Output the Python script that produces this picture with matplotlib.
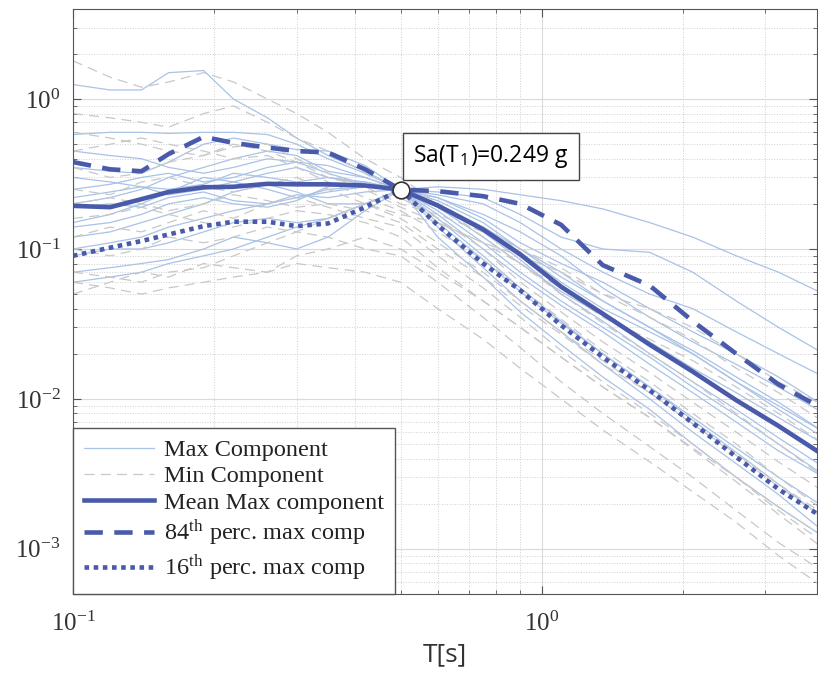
import numpy as np
import matplotlib.pyplot as plt
from matplotlib.ticker import NullFormatter
from matplotlib.lines import Line2D

plt.rcParams['font.family'] = 'Liberation Serif'
plt.rcParams['mathtext.fontset'] = 'stix'
plt.rcParams['axes.unicode_minus'] = False

# periods [s]
period = [0.10, 0.12, 0.14, 0.16, 0.19, 0.22, 0.26, 0.30, 0.35, 0.42, 0.50,
          0.60, 0.75, 0.90, 1.10, 1.35, 1.70, 2.10, 2.60, 3.20, 4.00]

# spectral accelerations of the max components [g]
max_components = [
    [1.25, 1.15, 1.15, 1.5, 1.55, 1.0, 0.75, 0.55, 0.42, 0.33, 0.249, 0.17, 0.10, 0.065, 0.042, 0.028, 0.017, 0.011, 0.007, 0.0045, 0.003],
    [0.58, 0.6, 0.6, 0.59, 0.6, 0.6, 0.58, 0.5, 0.4, 0.32, 0.249, 0.2, 0.14, 0.1, 0.07, 0.045, 0.03, 0.02, 0.013, 0.009, 0.006],
    [0.2, 0.22, 0.25, 0.3, 0.35, 0.4, 0.45, 0.42, 0.33, 0.3, 0.249, 0.26, 0.25, 0.23, 0.21, 0.185, 0.15, 0.12, 0.09, 0.07, 0.05],
    [0.35, 0.33, 0.32, 0.38, 0.5, 0.55, 0.5, 0.46, 0.45, 0.36, 0.249, 0.24, 0.22, 0.17, 0.12, 0.1, 0.095, 0.07, 0.045, 0.03, 0.02],
    [0.15, 0.17, 0.2, 0.24, 0.3, 0.28, 0.32, 0.35, 0.3, 0.27, 0.249, 0.22, 0.16, 0.11, 0.08, 0.06, 0.04, 0.028, 0.02, 0.014, 0.009],
    [0.1, 0.11, 0.12, 0.14, 0.16, 0.18, 0.2, 0.22, 0.25, 0.26, 0.249, 0.16, 0.09, 0.055, 0.033, 0.02, 0.012, 0.0075, 0.0047, 0.003, 0.0019],
    [0.07, 0.075, 0.08, 0.085, 0.1, 0.12, 0.11, 0.1, 0.12, 0.18, 0.249, 0.14, 0.075, 0.045, 0.028, 0.017, 0.01, 0.006, 0.0037, 0.0023, 0.0013],
    [0.25, 0.27, 0.3, 0.32, 0.28, 0.3, 0.35, 0.38, 0.36, 0.3, 0.249, 0.2, 0.13, 0.085, 0.05, 0.033, 0.02, 0.013, 0.0085, 0.0055, 0.0035],
    [0.19, 0.2, 0.19, 0.22, 0.24, 0.21, 0.2, 0.23, 0.22, 0.24, 0.249, 0.21, 0.15, 0.1, 0.065, 0.045, 0.03, 0.021, 0.014, 0.0095, 0.006],
    [0.12, 0.13, 0.15, 0.17, 0.2, 0.24, 0.27, 0.24, 0.2, 0.2, 0.249, 0.18, 0.11, 0.07, 0.045, 0.03, 0.019, 0.012, 0.0078, 0.005, 0.0031],
    [0.3, 0.28, 0.26, 0.25, 0.27, 0.32, 0.3, 0.28, 0.3, 0.28, 0.249, 0.22, 0.17, 0.13, 0.09, 0.055, 0.035, 0.024, 0.017, 0.012, 0.008],
    [0.09, 0.1, 0.1, 0.11, 0.13, 0.15, 0.16, 0.15, 0.16, 0.2, 0.249, 0.15, 0.085, 0.052, 0.032, 0.02, 0.012, 0.0072, 0.0044, 0.0027, 0.0016],
    [0.45, 0.42, 0.4, 0.35, 0.32, 0.35, 0.4, 0.38, 0.32, 0.27, 0.249, 0.23, 0.2, 0.15, 0.1, 0.07, 0.05, 0.04, 0.028, 0.02, 0.014],
    [0.06, 0.065, 0.07, 0.08, 0.09, 0.1, 0.12, 0.14, 0.16, 0.2, 0.249, 0.12, 0.065, 0.038, 0.023, 0.014, 0.0085, 0.005, 0.003, 0.0019, 0.0012],
    [0.22, 0.24, 0.26, 0.23, 0.25, 0.28, 0.25, 0.22, 0.24, 0.26, 0.249, 0.19, 0.12, 0.08, 0.052, 0.036, 0.024, 0.016, 0.011, 0.0075, 0.005],
    [0.14, 0.15, 0.17, 0.2, 0.22, 0.2, 0.19, 0.21, 0.26, 0.28, 0.249, 0.2, 0.14, 0.095, 0.06, 0.04, 0.028, 0.02, 0.013, 0.0085, 0.0055],
]

# spectral accelerations of the min components [g]
min_components = [
    [1.8, 1.4, 1.2, 1.3, 1.5, 1.3, 1.0, 0.8, 0.6, 0.4, 0.3, 0.2, 0.12, 0.08, 0.05, 0.032, 0.02, 0.013, 0.008, 0.005, 0.003],
    [0.8, 0.75, 0.7, 0.65, 0.8, 0.9, 0.7, 0.55, 0.45, 0.32, 0.22, 0.16, 0.1, 0.06, 0.038, 0.024, 0.015, 0.0095, 0.006, 0.0038, 0.0024],
    [0.45, 0.5, 0.55, 0.5, 0.45, 0.4, 0.42, 0.35, 0.28, 0.22, 0.18, 0.13, 0.085, 0.055, 0.034, 0.021, 0.013, 0.008, 0.005, 0.003, 0.0018],
    [0.05, 0.06, 0.07, 0.065, 0.08, 0.075, 0.07, 0.09, 0.1, 0.12, 0.1, 0.07, 0.045, 0.03, 0.019, 0.012, 0.0075, 0.0046, 0.0028, 0.0017, 0.001],
    [0.12, 0.14, 0.13, 0.15, 0.18, 0.16, 0.2, 0.22, 0.19, 0.16, 0.14, 0.09, 0.055, 0.035, 0.021, 0.013, 0.008, 0.005, 0.003, 0.0018, 0.0011],
    [0.25, 0.23, 0.28, 0.3, 0.26, 0.24, 0.27, 0.3, 0.25, 0.2, 0.17, 0.15, 0.11, 0.08, 0.055, 0.035, 0.025, 0.018, 0.012, 0.008, 0.005],
    [0.07, 0.065, 0.06, 0.07, 0.075, 0.09, 0.11, 0.13, 0.12, 0.1, 0.09, 0.06, 0.035, 0.022, 0.013, 0.008, 0.0048, 0.003, 0.0018, 0.0011, 0.0007],
    [0.35, 0.3, 0.32, 0.38, 0.42, 0.5, 0.45, 0.38, 0.3, 0.26, 0.2, 0.17, 0.13, 0.1, 0.075, 0.05, 0.035, 0.025, 0.016, 0.011, 0.007],
    [0.16, 0.17, 0.19, 0.17, 0.15, 0.14, 0.16, 0.18, 0.17, 0.15, 0.12, 0.075, 0.045, 0.03, 0.019, 0.012, 0.0075, 0.0047, 0.003, 0.0019, 0.0012],
    [0.1, 0.09, 0.1, 0.12, 0.11, 0.12, 0.14, 0.13, 0.16, 0.2, 0.16, 0.11, 0.07, 0.045, 0.028, 0.018, 0.011, 0.0068, 0.0042, 0.0026, 0.0016],
    [0.6, 0.55, 0.5, 0.45, 0.42, 0.48, 0.5, 0.4, 0.32, 0.25, 0.19, 0.15, 0.11, 0.09, 0.07, 0.05, 0.04, 0.03, 0.02, 0.013, 0.009],
    [0.2, 0.22, 0.2, 0.18, 0.2, 0.23, 0.21, 0.19, 0.2, 0.18, 0.15, 0.1, 0.065, 0.042, 0.027, 0.017, 0.011, 0.0068, 0.0043, 0.0027, 0.0017],
    [0.06, 0.055, 0.05, 0.055, 0.06, 0.065, 0.07, 0.08, 0.075, 0.07, 0.06, 0.04, 0.025, 0.016, 0.01, 0.0062, 0.0038, 0.0024, 0.0015, 0.0009, 0.00055],
]

# statistics of the max components
mean_max = [0.194, 0.19, 0.215, 0.24, 0.258, 0.26, 0.272, 0.27, 0.27, 0.265, 0.249,
            0.195, 0.135, 0.092, 0.056, 0.037, 0.023, 0.0152, 0.0098, 0.0066, 0.0042]
p84_max = [0.38, 0.34, 0.33, 0.43, 0.56, 0.51, 0.475, 0.45, 0.44, 0.34, 0.249,
           0.243, 0.225, 0.20, 0.145, 0.078, 0.057, 0.033, 0.020, 0.0125, 0.0085]
p16_max = [0.09, 0.102, 0.113, 0.125, 0.142, 0.152, 0.152, 0.142, 0.148, 0.19, 0.249,
           0.144, 0.08, 0.053, 0.031, 0.019, 0.0114, 0.0069, 0.0041, 0.0025, 0.0016]

T1 = 0.5
sa_T1 = 0.249

blue = '#4a5aab'
light_blue = '#a9c2e6'
light_gray = '#c8c8c8'

fig = plt.figure(figsize=(8.18, 6.78), dpi=100)
ax = fig.add_axes([0.0892, 0.124, 0.9098, 0.863])

for rec in max_components:
    ax.loglog(period, rec, color=light_blue, lw=0.9)
for rec in min_components:
    ax.loglog(period, rec, color=light_gray, lw=0.9, dashes=(8, 5))

ax.loglog(period, mean_max, color=blue, lw=3.3)
ax.loglog(period, p84_max, color=blue, lw=3.3, dashes=(4, 2.5))
ax.loglog(period, p16_max, color=blue, lw=3.3, linestyle=(0, (1, 1)))

ax.plot(T1, sa_T1, 'o', ms=12, mfc='white', mec='#333333', mew=1.2, zorder=6)
ax.annotate(r'Sa(T$_{\mathregular{\,1}}$)=0.249 g', xy=(T1, sa_T1), xytext=(9, 14),
            textcoords='offset points', ha='left', va='bottom', fontsize=16.5,
            family='Open Sans',
            bbox=dict(boxstyle='square,pad=0.45', fc='white', ec='#444444', lw=1))

ax.set_xlim(0.1, 3.87)
ax.set_ylim(5e-4, 4)

ax.grid(True, which='major', color='#dadada', lw=0.8)
ax.grid(True, which='minor', color='#cfcfcf', lw=0.7, ls=':')
ax.set_axisbelow(True)

ax.tick_params(which='both', direction='in', top=True, right=True, colors='#555555',
               labelcolor='#333333', labelsize=18)
ax.tick_params(which='major', length=6)
ax.tick_params(which='minor', length=3)
ax.tick_params(axis='x', pad=13)
ax.tick_params(axis='y', pad=9)
ax.xaxis.set_minor_formatter(NullFormatter())
ax.yaxis.set_minor_formatter(NullFormatter())
for s in ax.spines.values():
    s.set_color('#555555')

ax.set_xlabel('T[s]', family='Open Sans', fontsize=19, color='#333333', labelpad=4)

handles = [
    Line2D([], [], color=light_blue, lw=0.9),
    Line2D([], [], color=light_gray, lw=0.9, dashes=(8, 5)),
    Line2D([], [], color=blue, lw=3.3),
    Line2D([], [], color=blue, lw=3.3, dashes=(4, 2.5)),
    Line2D([], [], color=blue, lw=3.3, linestyle=(0, (1, 1))),
]
labels = ['Max Component', 'Min Component', 'Mean Max component',
          r'84$^{\mathregular{th}}$ perc. max comp',
          r'16$^{\mathregular{th}}$ perc. max comp']
leg = ax.legend(handles, labels, loc='lower left', borderaxespad=0, fontsize=17.5,
                fancybox=False, edgecolor='#555555', framealpha=1,
                handlelength=2.9, handletextpad=0.4, labelspacing=0.17, borderpad=0.45)
leg.get_frame().set_linewidth(1.0)
for t in leg.get_texts():
    t.set_color('#222222')

fig.savefig('out.png', dpi=100, facecolor='white')
